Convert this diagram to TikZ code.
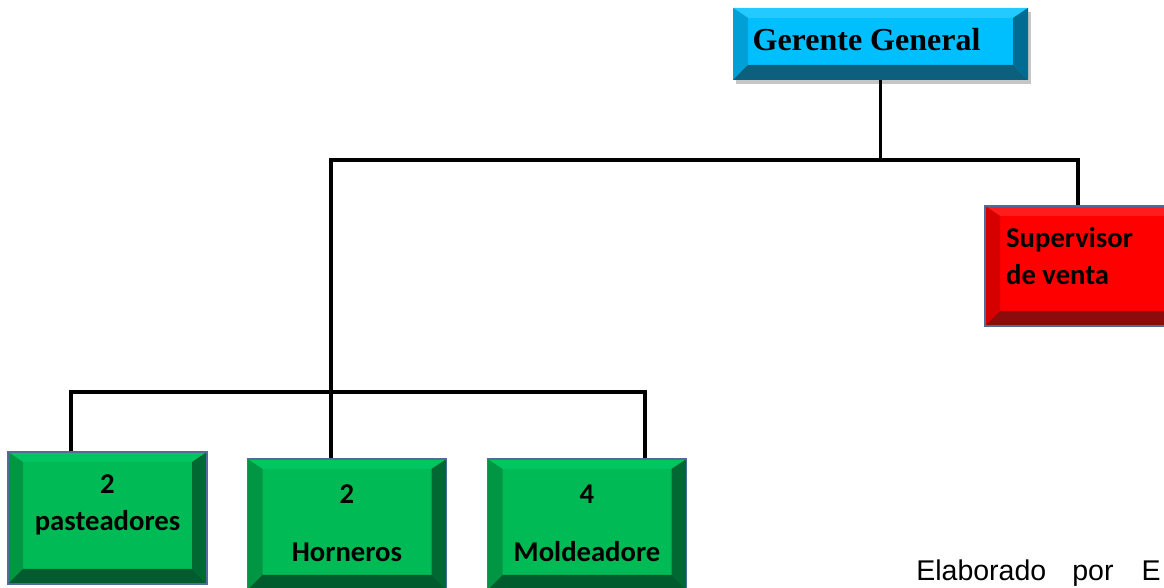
\documentclass[tikz,border=0pt]{standalone}
\usepackage{fontspec}
\newfontfamily\timesfont{Liberation Serif}
\newfontfamily\calfont{Carlito}
\newfontfamily\arialfont{Liberation Sans}
\usetikzlibrary{shadows}

\definecolor{ggface}{RGB}{0,191,255}
\definecolor{ggtop}{RGB}{35,202,255}
\definecolor{ggleft}{RGB}{0,160,215}
\definecolor{ggright}{RGB}{0,108,148}
\definecolor{ggbottom}{RGB}{12,95,125}
\definecolor{redface}{RGB}{255,0,0}
\definecolor{redtop}{RGB}{255,28,28}
\definecolor{redleft}{RGB}{215,0,0}
\definecolor{redright}{RGB}{170,0,0}
\definecolor{redbottom}{RGB}{140,12,12}
\definecolor{grface}{RGB}{0,187,85}
\definecolor{grtop}{RGB}{0,197,96}
\definecolor{grleft}{RGB}{0,150,68}
\definecolor{grright}{RGB}{0,105,50}
\definecolor{grbottom}{RGB}{0,92,45}
\definecolor{edge}{RGB}{80,108,155}

\begin{document}
\begin{tikzpicture}[x=0.75pt,y=0.75pt,
  bevel/.style n args={5}{fill=#1, path picture={
    \fill[#2] (path picture bounding box.north west) -- (path picture bounding box.north east)
      -- ([shift={(-15,-10)}]path picture bounding box.north east) -- ([shift={(15,-10)}]path picture bounding box.north west) -- cycle;
    \fill[#3] (path picture bounding box.north west) -- ([shift={(15,-10)}]path picture bounding box.north west)
      -- ([shift={(15,15)}]path picture bounding box.south west) -- (path picture bounding box.south west) -- cycle;
    \fill[#4] (path picture bounding box.north east) -- ([shift={(-15,-10)}]path picture bounding box.north east)
      -- ([shift={(-15,15)}]path picture bounding box.south east) -- (path picture bounding box.south east) -- cycle;
    \fill[#5] (path picture bounding box.south west) -- ([shift={(15,15)}]path picture bounding box.south west)
      -- ([shift={(-15,15)}]path picture bounding box.south east) -- (path picture bounding box.south east) -- cycle;}},
  gerente/.style={bevel={ggface}{ggtop}{ggleft}{ggright}{ggbottom}, minimum width=221.25pt, minimum height=54pt,
    drop shadow={opacity=0.45, shadow xshift=2.5pt, shadow yshift=-3pt}},
  venta/.style={bevel={redface}{redtop}{redleft}{redright}{redbottom}, draw=edge, line width=0.8pt,
    minimum width=150pt, minimum height=90pt},
  puesto/.style={bevel={grface}{grtop}{grleft}{grright}{grbottom}, draw=edge, line width=0.8pt,
    minimum width=149.25pt, minimum height=98.25pt},
  lbl/.style={font=\calfont\bfseries\fontsize{21.5}{28}\selectfont, align=center},
  conn/.style={line width=2.3pt}]
  \useasboundingbox (0,0) rectangle (1164,588);
  \clip (0,0) rectangle (1164,588);

  \node[gerente] (gg) at (880.5,544)
    [label={[font=\timesfont\bfseries\fontsize{24}{28}\selectfont, shift={(-14,4)}]center:Gerente General}] {};
  \node[venta] (sup) at (1085,322)
    [label={[lbl, align=left, anchor=west, shift={(17,10)}]west:{Supervisor\\de venta}}] {};
  \node[puesto, minimum height=99pt] (past) at (107.5,70)
    [label={[lbl, shift={(0,13)}]center:{2\\pasteadores}}] {};
  \node[puesto] (horn) at (347,63.5)
    [label={[lbl, shift={(0,1)}]center:{2\\[15.75pt]Horneros}}] {};
  \node[puesto] (mold) at (587,63.5)
    [label={[lbl, shift={(0,1)}]center:{4\\[15.75pt]Moldeadore}}] {};

  \coordinate (bar1) at (880.5,428);
  \coordinate (bar2) at (331,196);
  \draw[conn] (gg.south) -- (bar1);
  \draw[conn] ([xshift=-12pt]horn.north) |- (bar1) -| ([xshift=-5.25pt]sup.north);
  \draw[conn] ([xshift=-27.4pt]past.north) |- (bar2) -| ([xshift=43.5pt]mold.north);

  \node[font=\arialfont\fontsize{21.4}{26}\selectfont, inner sep=0pt, anchor=base west] (nota) at (916,7)
    {Elaborado\hspace{19.5pt}por\hspace{21pt}E};
\end{tikzpicture}
\end{document}
